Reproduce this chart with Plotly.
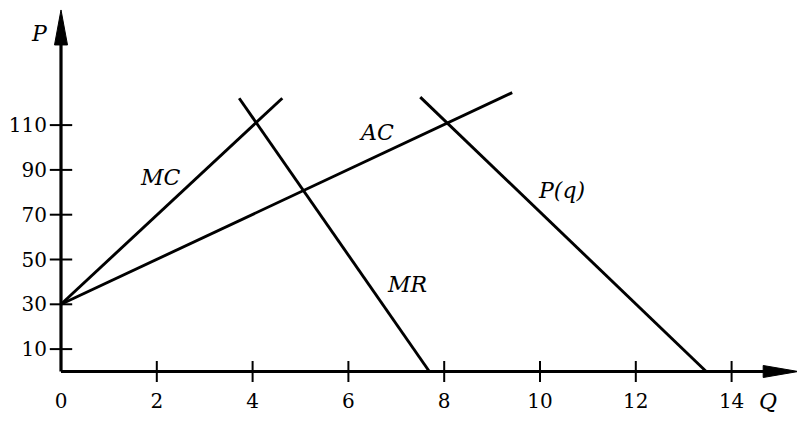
import plotly.graph_objects as go

# ---- data ----
x_ticks = [0, 2, 4, 6, 8, 10, 12, 14]
y_ticks = [10, 30, 50, 70, 90, 110]

mc_q = [0, 4.62]
mc_p = [30, 122]
ac_q = [0, 9.42]
ac_p = [30, 124.5]
mr_q = [3.72, 7.69]
mr_p = [122, 0]
pq_q = [7.5, 13.47]
pq_p = [122.5, 0]

X_END = 15.39   # arrow tip of Q axis
Y_END = 161.4   # arrow tip of P axis

FONT = "DejaVu Serif"
BLACK = "#000000"
LW = 2.9

# page body has an 8px margin, so the figure is drawn 8px smaller/shifted
W, H = 797, 425
X0_PX, Y0_PX = 53, 363.5      # pixel position of origin inside the figure
PX_PER_Q, PX_PER_P = 47.9, 2.24

fig = go.Figure()

for q, p in [(mc_q, mc_p), (ac_q, ac_p), (mr_q, mr_p), (pq_q, pq_p)]:
    fig.add_trace(go.Scatter(x=q, y=p, mode="lines",
                             line=dict(color=BLACK, width=LW),
                             showlegend=False, hoverinfo="skip"))

# tick marks crossing the axes
fig.add_trace(go.Scatter(x=x_ticks[1:], y=[0] * (len(x_ticks) - 1), mode="markers",
                         marker=dict(symbol="line-ns-open", size=15, color=BLACK,
                                     line=dict(color=BLACK, width=2)),
                         showlegend=False, hoverinfo="skip"))
fig.add_trace(go.Scatter(x=[0] * len(y_ticks), y=y_ticks, mode="markers",
                         marker=dict(symbol="line-ew-open", size=16, color=BLACK,
                                     line=dict(color=BLACK, width=2)),
                         showlegend=False, hoverinfo="skip"))

shapes = [
    dict(type="line", x0=0, y0=0, x1=X_END - 0.3, y1=0, xref="x", yref="y",
         line=dict(color=BLACK, width=3.2), layer="above"),
    dict(type="line", x0=0, y0=0, x1=0, y1=Y_END - 5, xref="x", yref="y",
         line=dict(color=BLACK, width=3.2), layer="above"),
    dict(type="path", xref="x", yref="y", xsizemode="pixel", ysizemode="pixel",
         xanchor=X_END, yanchor=0, path="M 0 0 L -35 6 L -35 -6 Z",
         fillcolor=BLACK, line=dict(color=BLACK, width=1), layer="above"),
    dict(type="path", xref="x", yref="y", xsizemode="pixel", ysizemode="pixel",
         xanchor=0, yanchor=Y_END, path="M 0 0 L -6.5 -35 L 6.5 -35 Z",
         fillcolor=BLACK, line=dict(color=BLACK, width=1), layer="above"),
]

def lab(text, x, y):
    return dict(text=f"<i>{text}</i>", x=x, y=y, xref="x", yref="y",
                showarrow=False, font=dict(family=FONT, size=22, color=BLACK),
                xanchor="center", yanchor="middle")

annotations = [
    lab("P", -0.44, 151),
    lab("Q", 14.76, -13.6),
    lab("MC", 2.07, 86.4),
    lab("AC", 6.58, 106.5),
    lab("MR", 7.22, 39),
    lab("P(q)", 10.44, 81),
]

fig.update_layout(
    width=W, height=H,
    margin=dict(l=0, r=0, t=0, b=0, pad=0),
    paper_bgcolor="white", plot_bgcolor="white",
    shapes=shapes, annotations=annotations,
    xaxis=dict(range=[-X0_PX / PX_PER_Q, (W - X0_PX) / PX_PER_Q],
               tickvals=x_ticks, ticktext=[str(v) for v in x_ticks],
               anchor="free", position=(H - Y0_PX) / H, automargin=False,
               showgrid=False, zeroline=False, showline=False, ticks="",
               ticklabelstandoff=15,
               tickfont=dict(family=FONT, size=20, color=BLACK)),
    yaxis=dict(range=[-(H - Y0_PX) / PX_PER_P, Y0_PX / PX_PER_P],
               tickvals=y_ticks, ticktext=[str(v) for v in y_ticks],
               anchor="free", position=X0_PX / W, automargin=False,
               showgrid=False, zeroline=False, showline=False, ticks="",
               ticklabelstandoff=14,
               tickfont=dict(family=FONT, size=20, color=BLACK)),
)

fig.write_html("out.html")
